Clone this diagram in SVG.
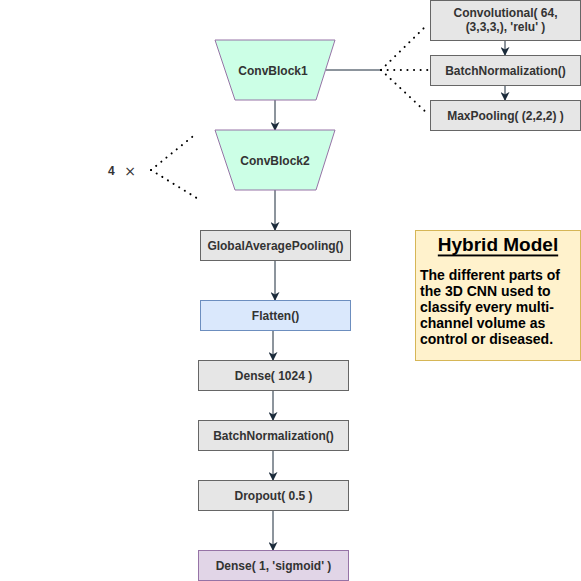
<svg xmlns="http://www.w3.org/2000/svg" width="581" height="581" viewBox="0 0 581 581">
<style>
.lbl{font-family:"Liberation Sans",Arial,sans-serif;font-size:12px;font-weight:bold;fill:#333333;text-anchor:middle;dominant-baseline:central}
.grey{fill:#e6e6e6;stroke:#666666;stroke-width:1}
.trap{fill:#ccffe6;stroke:#9673a6;stroke-width:1}
.edge{stroke:#1b2b3b;stroke-width:1;fill:none}
.dot{stroke:#000;stroke-width:2;fill:none;stroke-dasharray:0.1 6.5;stroke-linecap:round}
</style>
<defs>
<marker id="arr" viewBox="0 0 10 10" refX="9" refY="5" markerWidth="9" markerHeight="9" markerUnits="userSpaceOnUse" orient="auto">
<path d="M0,0 L10,5 L0,10 L3,5 Z" fill="#1b2b3b"/>
</marker>
</defs>
<rect width="581" height="581" fill="#ffffff"/>
<g id="connectors">
<line class="edge" x1="275" y1="100" x2="275" y2="130" marker-end="url(#arr)"/>
<line class="edge" x1="275" y1="190" x2="275" y2="230" marker-end="url(#arr)"/>
<line class="edge" x1="275" y1="260" x2="275" y2="300" marker-end="url(#arr)"/>
<line class="edge" x1="273" y1="330" x2="273" y2="360" marker-end="url(#arr)"/>
<line class="edge" x1="273" y1="390" x2="273" y2="420" marker-end="url(#arr)"/>
<line class="edge" x1="273" y1="450" x2="273" y2="480" marker-end="url(#arr)"/>
<line class="edge" x1="273" y1="510" x2="273" y2="550" marker-end="url(#arr)"/>
<line class="edge" x1="505" y1="40" x2="505" y2="55" marker-end="url(#arr)"/>
<line class="edge" x1="505" y1="85" x2="505" y2="100" marker-end="url(#arr)"/>
<line class="edge" x1="326" y1="70" x2="381" y2="70"/>
<line class="dot" x1="381" y1="70" x2="428" y2="24"/>
<line class="dot" x1="381" y1="70" x2="430" y2="70"/>
<line class="dot" x1="381" y1="70" x2="428" y2="114"/>
<line class="dot" x1="151" y1="170" x2="197" y2="133"/>
<line class="dot" x1="151" y1="170" x2="200" y2="200"/>
</g>
<g id="convblock1">
<polygon class="trap" points="215,40 335,40 316,100 235,100"/>
<text class="lbl" x="273" y="71">ConvBlock1</text>
</g>
<g id="convblock2">
<polygon class="trap" points="215,130 335,130 316,190 235,190"/>
<text class="lbl" x="275" y="161">ConvBlock2</text>
</g>
<g id="repeat-label">
<text x="108" y="171" style="font-family:'Liberation Sans',Arial,sans-serif;font-size:12px;font-weight:bold;fill:#333333;dominant-baseline:central">4</text>
<text x="130" y="171" style="font-family:'DejaVu Sans',sans-serif;font-size:14px;fill:#333333;text-anchor:middle;dominant-baseline:central">×</text>
</g>
<g id="conv">
<rect class="grey" x="430.5" y="0.5" width="150" height="40"/>
<text class="lbl" x="505.5" y="13">Convolutional( 64,</text>
<text class="lbl" x="505.5" y="27">(3,3,3,), 'relu' )</text>
</g>
<g id="bn1">
<rect class="grey" x="430.5" y="55.5" width="150" height="30"/>
<text class="lbl" x="505.5" y="71">BatchNormalization()</text>
</g>
<g id="maxpool">
<rect class="grey" x="430.5" y="100.5" width="150" height="30"/>
<text class="lbl" x="505.5" y="116">MaxPooling( (2,2,2) )</text>
</g>
<g id="gap">
<rect class="grey" x="200.5" y="230.5" width="150" height="30"/>
<text class="lbl" x="275.5" y="246">GlobalAveragePooling()</text>
</g>
<g id="flatten">
<rect x="200.5" y="300.5" width="150" height="30" fill="#dae8fc" stroke="#6c8ebf"/>
<text class="lbl" x="275.5" y="316">Flatten()</text>
</g>
<g id="dense1024">
<rect class="grey" x="198.5" y="360.5" width="150" height="30"/>
<text class="lbl" x="273.5" y="376">Dense( 1024 )</text>
</g>
<g id="bn2">
<rect class="grey" x="198.5" y="420.5" width="150" height="30"/>
<text class="lbl" x="273.5" y="436">BatchNormalization()</text>
</g>
<g id="dropout">
<rect class="grey" x="198.5" y="480.5" width="150" height="30"/>
<text class="lbl" x="273.5" y="496">Dropout( 0.5 )</text>
</g>
<g id="dense-sigmoid">
<rect x="198.5" y="550.5" width="150" height="30" fill="#e1d5e7" stroke="#9673a6"/>
<text class="lbl" x="273.5" y="566">Dense( 1, 'sigmoid' )</text>
</g>
<g id="note">
<rect x="415.5" y="230.5" width="165" height="130" fill="#fff2cc" stroke="#d6b656"/>
<text x="498" y="244" style="font-family:'Liberation Sans',Arial,sans-serif;font-size:19px;font-weight:bold;fill:#000;text-anchor:middle;text-decoration:underline;dominant-baseline:central">Hybrid Model</text>
<g style="font-family:'Liberation Sans',Arial,sans-serif;font-size:14px;font-weight:bold;fill:#000">
<text x="420" y="280">The different parts of</text>
<text x="420" y="296">the 3D CNN used to</text>
<text x="420" y="312">classify every multi-</text>
<text x="420" y="328">channel volume as</text>
<text x="420" y="344">control or diseased.</text>
</g>
</g>
</svg>
